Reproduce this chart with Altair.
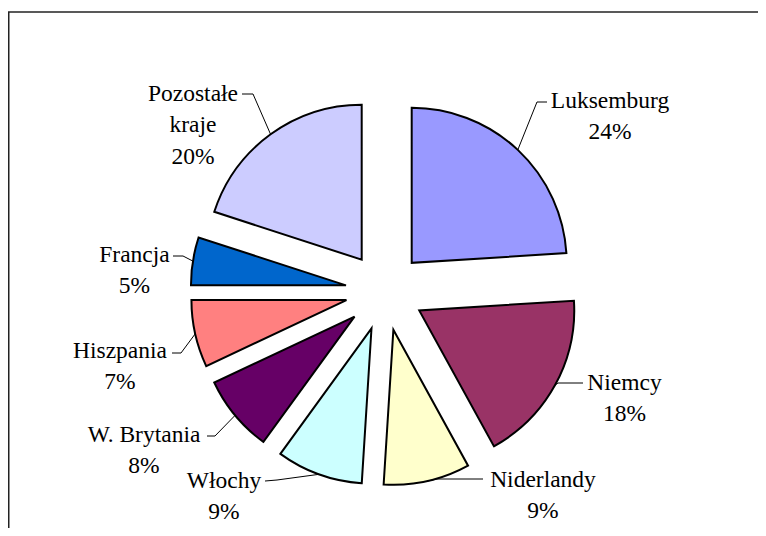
import altair as alt
import pandas as pd

# ---- data ----
COUNTRIES = ["Luksemburg", "Niemcy", "Niderlandy", "Włochy",
             "W. Brytania", "Hiszpania", "Francja", "Pozostałe kraje"]
SHARES = [24, 18, 9, 9, 8, 7, 5, 20]
COLORS = ["#9999FF", "#993366", "#FFFFCC", "#CCFFFF",
          "#660066", "#FF8080", "#0066CC", "#CCCCFF"]
WRAPPED = ["Luksemburg", "Niemcy", "Niderlandy", "Włochy",
           "W. Brytania", "Hiszpania", "Francja", "Pozostałe\nkraje"]

# ---- layout (pixels inside the chart) ----
W, H = 750, 520
CX, CY = 376.8, 283.5       # pie centre
R = 155                     # pie radius
EXPLODE = 39.3              # radial offset of every slice
# label block centres, leader elbows and leader ends
LABEL_X = [602, 616.5, 535, 216, 136, 112, 126.5, 185]
LABEL_Y = [92.8, 374.8, 471.5, 472.8, 426.8, 342.8, 246.5, 85.8]
ELBOW_X = [529, 550, 429, 269, 207, 173, 175, 245]
ELBOW_Y = [94, 375, 471, 472, 428, 345, 248, 86]
END_X = [539, 575, 475, 257, 199, 164, 165, 234]
END_Y = [94, 375, 471, 473, 428, 345, 248, 86]

FONT = "Liberation Serif"

df = pd.DataFrame({
    "order": list(range(len(COUNTRIES))),
    "country": COUNTRIES,
    "share": SHARES,
    "label": [f"{w}\n{s}%" for w, s in zip(WRAPPED, SHARES)],
    "lx": LABEL_X, "ly": LABEL_Y,
    "ex": ELBOW_X, "ey": ELBOW_Y,
    "tx": END_X, "ty": END_Y,
})

base = alt.Chart(df).transform_window(
    cum="sum(share)", sort=[alt.SortField("order")], frame=[None, 0]
).transform_joinaggregate(
    total="sum(share)"
).transform_calculate(
    t1="2*PI*datum.cum/datum.total",
    t0="2*PI*(datum.cum-datum.share)/datum.total",
).transform_calculate(
    tm="(datum.t0+datum.t1)/2",
).transform_calculate(
    px=f"{CX}+{EXPLODE}*sin(datum.tm)",
    py=f"{CY}-{EXPLODE}*cos(datum.tm)",
).transform_calculate(
    ax=f"datum.px+{R}*sin(datum.tm)",
    ay=f"datum.py-{R}*cos(datum.tm)",
)

slices = base.mark_arc(radius=R, stroke="black", strokeWidth=2).encode(
    x=alt.X("px:Q", scale=None, axis=None),
    y=alt.Y("py:Q", scale=None, axis=None),
    theta=alt.Theta("t0:Q", scale=None, stack=False),
    theta2="t1:Q",
    color=alt.Color("country:N",
                    scale=alt.Scale(domain=COUNTRIES, range=COLORS),
                    legend=None),
)

leader1 = base.mark_rule(color="black", strokeWidth=1).encode(
    x=alt.X("ax:Q", scale=None, axis=None),
    y=alt.Y("ay:Q", scale=None, axis=None),
    x2="ex:Q", y2="ey:Q",
)
leader2 = base.mark_rule(color="black", strokeWidth=1).encode(
    x=alt.X("ex:Q", scale=None, axis=None),
    y=alt.Y("ey:Q", scale=None, axis=None),
    x2="tx:Q", y2="ty:Q",
)

labels = base.mark_text(
    font=FONT, fontSize=23.5, lineHeight=31.5,
    lineBreak="\n", align="center", baseline="middle", color="black",
).encode(
    x=alt.X("lx:Q", scale=None, axis=None),
    y=alt.Y("ly:Q", scale=None, axis=None),
    text="label:N",
)

frame_data = alt.Data(values=[{"k": 0}])
frame_top = alt.Chart(frame_data).mark_rule(color="#222", strokeWidth=1.5).encode(
    x=alt.value(0), x2=alt.value(W), y=alt.value(4)
)
frame_left = alt.Chart(frame_data).mark_rule(color="#222", strokeWidth=1.5).encode(
    x=alt.value(0.75), y=alt.value(4), y2=alt.value(H)
)

chart = alt.layer(frame_top, frame_left, slices, leader1, leader2, labels).properties(
    width=W, height=H, padding=0, autosize=alt.AutoSizeParams(type="none"),
).configure_view(strokeWidth=0, stroke="transparent")

chart.save("out.html", embed_options={"renderer": "svg", "actions": False})
